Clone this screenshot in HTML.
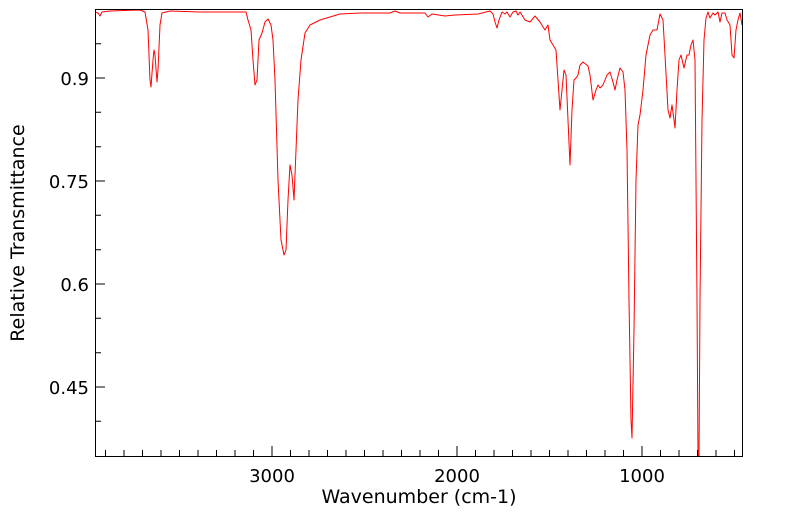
<!DOCTYPE html>
<html><head><style>body{margin:0;background:#fff}svg{display:block}</style></head><body>
<svg width="799" height="516" xmlns="http://www.w3.org/2000/svg" font-family="DejaVu Sans, Liberation Sans, sans-serif">
<rect width="799" height="516" fill="#fff"/>
<polyline fill="none" stroke="#ff0000" stroke-width="1" stroke-linejoin="round" points="95,12 98,13 100,16 102,12 110,11 140,10 145,12 148,30 150,80 151,87 153,60 154,50 155,55 157,82 158,70 160,25 162,13 170,11 200,12 240,12 246,12 248,20 251,30 253,60 255,85 257,80 259,40 262,33 265,22 268,19 271,25 273,40 275,80 278,180 281,240 284,255 286,250 288,200 290,165 292,175 294,200 296,150 298,100 301,60 305,33 310,25 320,20 340,14 360,13 390,13 395,11 400,13 425,13 428,17 432,14 445,16 455,15 478,14 490,11 493,14 495,22 497,28 499,20 502,12 505,14 507,12 510,17 513,12 516,11 518,15 520,12 525,20 530,22 535,16 540,22 545,30 548,25 550,40 553,45 556,50 558,80 560,110 562,90 564,70 566,75 568,120 570,165 572,110 574,80 576,78 578,75 580,65 583,62 588,66 590,75 593,100 596,90 598,85 600,88 603,85 607,75 610,72 613,82 615,90 617,80 620,68 623,72 625,90 627,150 629,300 631,420 632,438 634,330 636,180 638,125 640,115 643,90 646,55 650,35 653,30 657,30 660,14 663,20 665,55 668,110 670,118 672,105 674,120 675,128 677,90 679,60 681,55 684,68 687,55 689,55 691,45 693,40 695,60 697,300 698,456 699,456 700,300 702,120 704,40 706,18 708,12 710,18 713,13 715,15 718,12 720,22 722,13 725,13 727,20 730,25 732,55 734,58 736,30 738,20 740,13 742,25"/>
<rect x="95.5" y="9.5" width="647" height="447" fill="none" stroke="#000" stroke-width="1"/>
<path stroke="#000" stroke-width="1" fill="none" d="
M105.5 456v-6M124 456v-6M142.5 456v-6M161 456v-6M179.5 456v-6M198 456v-6M216.5 456v-6M235 456v-6M253.5 456v-6M272 456v-10
M290.5 456v-6M309 456v-6M327.5 456v-6M346 456v-6M364.5 456v-6M383 456v-6M401.5 456v-6M420 456v-6M438.5 456v-6M457 456v-10
M475.5 456v-6M494 456v-6M512.5 456v-6M531 456v-6M549.5 456v-6M568 456v-6M586.5 456v-6M605 456v-6M623.5 456v-6M642 456v-10
M660.5 456v-6M679 456v-6M697.5 456v-6M716 456v-6M734.5 456v-6
M95 43.7h6M95 78h10M95 112.3h6M95 146.7h6M95 181h10M95 215.3h6M95 249.7h6M95 284h10M95 318.3h6M95 352.7h6M95 387h10M95 421.3h6"/>
<g font-size="18" fill="#000" text-anchor="end">
<text x="89" y="85">0.9</text><text x="89" y="188">0.75</text><text x="89" y="291">0.6</text><text x="89" y="394">0.45</text>
</g>
<g font-size="18" fill="#000" text-anchor="middle">
<text x="272" y="482">3000</text><text x="457" y="482">2000</text><text x="642" y="482">1000</text>
</g>
<g font-size="19" fill="#000" text-anchor="middle">
<text x="419" y="503">Wavenumber (cm-1)</text>
<text transform="translate(24,233) rotate(-90)">Relative Transmittance</text>
</g>
</svg>
</body></html>
